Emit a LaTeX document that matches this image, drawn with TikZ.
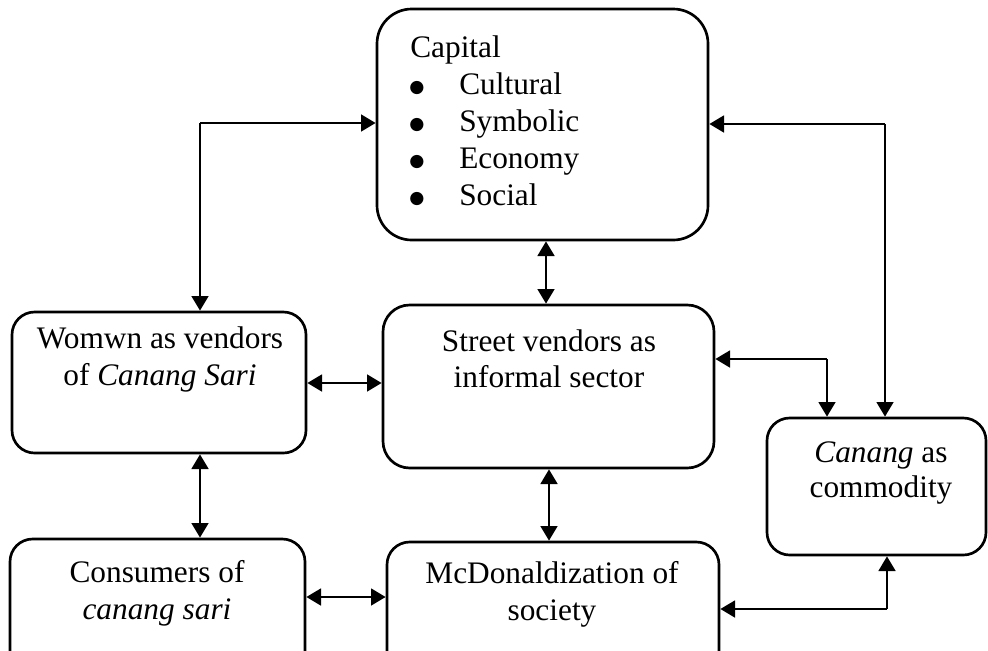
\documentclass[tikz,border=0pt]{standalone}
\usepackage{fontspec}
\setmainfont{Liberation Serif}
\newfontfamily\symfont{DejaVu Sans}
\usetikzlibrary{arrows.meta,fit}
\newcommand{\bigbul}{\makebox[37.5pt][l]{\raisebox{1.5pt}{\symfont\fontsize{13}{13}\selectfont ●}}}
\begin{document}
\begin{tikzpicture}[x=0.75pt,y=-0.75pt,
  box/.style={draw, line width=2pt, rounded corners=#1, inner sep=0pt},
  box/.default=18pt,
  lbl/.style={anchor=base, inner sep=0pt, font=\fontsize{23.5}{28}\selectfont},
  lbll/.style={lbl, anchor=base west},
  arr/.style={line width=2pt, -{Triangle[length=11pt,width=12.5pt]}},
  dbl/.style={line width=2pt, {Triangle[length=11pt,width=12.5pt]}-{Triangle[length=11pt,width=12.5pt]}}]
\useasboundingbox (0,0) rectangle (988,650);
\clip (0,0) rectangle (988,650);

% boxes
\node[box=26pt, fit={(377,9) (708,240)}] (cap) {};
\node[box=17pt, fit={(12,312) (306,453)}] (women) {};
\node[box=20pt, fit={(383,305) (714,468)}] (street) {};
\node[box=17pt, fit={(767,418) (986,555)}] (canang) {};
\node[box=17pt, fit={(10,539) (305,690)}] (cons) {};
\node[box=17pt, fit={(387,542) (719,690)}] (mcd) {};

% texts
\node[lbll] (capt) at (410,57) {Capital};
\node[lbll] (c1) at (409,94) {\bigbul Cultural};
\node[lbll] (c2) at (409,131) {\bigbul Symbolic};
\node[lbll] (c3) at (409,168) {\bigbul Economy};
\node[lbll] (c4) at (409,205) {\bigbul Social};

\node[lbl] (w1) at (160,348) {Womwn as vendors};
\node[lbl] (w2) at (160,385) {of \textit{Canang Sari}};

\node[lbl] (s1) at (549,351) {Street vendors as};
\node[lbl] (s2) at (549,387) {informal sector};

\node[lbl] (k1) at (881,462) {\textit{Canang} as};
\node[lbl] (k2) at (881,497) {commodity};

\node[lbl] (n1) at (157,582) {Consumers of};
\node[lbl] (n2) at (157,619) {\textit{canang sari}};

\node[lbl] (m1) at (552,583) {McDonaldization of};
\node[lbl] (m2) at (552,620) {society};

% straight double arrows
\draw[dbl] (cap.south -| 546,0) -- (street.north -| 546,0);
\draw[dbl] (street.south -| 549,0) -- (mcd.north -| 549,0);
\draw[dbl] (women.east |- 0,383) -- (street.west |- 0,383);
\draw[dbl] (cons.east |- 0,597) -- (mcd.west |- 0,597);
\draw[dbl] (women.south -| 200,0) -- (cons.north -| 200,0);

% elbow connectors
\coordinate (lc) at (200,123);
\draw[arr] (lc) -- (cap.west |- lc);
\draw[arr] (lc) -- (lc |- women.north);

\coordinate (rc) at (885,124);
\draw[arr] (rc) -- (cap.east |- rc);
\draw[arr] (rc) -- (rc |- canang.north);

\coordinate (sc) at (827,359);
\draw[arr] (sc) -- (street.east |- sc);
\draw[arr] (sc) -- (sc |- canang.north);

\coordinate (mc) at (887,609);
\draw[arr] (mc) -- (mcd.east |- mc);
\draw[arr] (mc) -- (mc |- canang.south);
\end{tikzpicture}
\end{document}
